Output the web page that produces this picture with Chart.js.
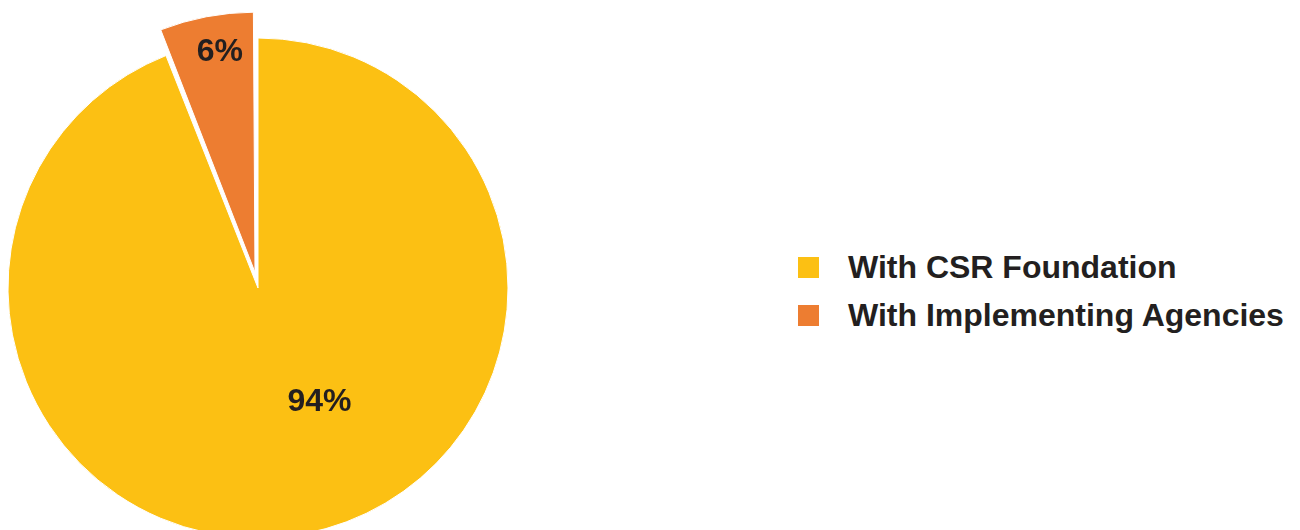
<!DOCTYPE html>
<html>
<head>
<meta charset="utf-8">
<script src="https://cdn.jsdelivr.net/npm/chart.js@4"></script>
<style>
  html, body { margin: 0; padding: 0; background: #fff; overflow: hidden; width: 1300px; height: 530px; }
  #pieWrap { position: absolute; left: 0; top: 0; width: 516px; height: 576px; }
  #legend { position: absolute; left: 798px; top: 243px; font-family: "Liberation Sans", Arial, sans-serif; font-weight: bold; font-size: 32px; color: #231f20; }
  .row { display: flex; align-items: center; height: 48px; line-height: 48px; white-space: nowrap; }
  .box { width: 21px; height: 21px; margin-right: 29px; }
</style>
</head>
<body>
<div id="pieWrap"><canvas id="shareChart" width="516" height="576"></canvas></div>
<div id="legend"></div>
<script>
const categories = ['With CSR Foundation', 'With Implementing Agencies'];
const shares = [94, 6];
const sliceColors = ['#fcc013', '#ed7d31'];

const PIE_RADIUS = 250;
// label placement: fraction of radius along the slice middle, plus a small nudge
const labelRadius = [0.5, 0.86];
const labelShift = [[38, -9], [7, 1]];

// how far chart.js v4 pushes an exploded arc out: offset/4 * (1 + fix)
function arcShift(arc) {
  const off = (arc.options.offset || 0) / 4;
  const circ = arc.endAngle - arc.startAngle;
  const fix = 1 - Math.sin(Math.min(Math.PI, circ || 0));
  return off * (1 + fix);
}

const pieLabels = {
  id: 'pieLabels',
  afterDatasetsDraw(chart) {
    const ctx = chart.ctx;
    const meta = chart.getDatasetMeta(0);
    ctx.save();
    ctx.font = 'bold 32px "Liberation Sans", Arial, sans-serif';
    ctx.fillStyle = '#231f20';
    ctx.textAlign = 'center';
    ctx.textBaseline = 'middle';
    meta.data.forEach((arc, i) => {
      const mid = (arc.startAngle + arc.endAngle) / 2;
      const r = arcShift(arc) + labelRadius[i] * arc.outerRadius;
      const x = arc.x + Math.cos(mid) * r + labelShift[i][0];
      const y = arc.y + Math.sin(mid) * r + labelShift[i][1];
      ctx.fillText(shares[i] + '%', x, y);
    });
    ctx.restore();
  }
};

const ctx = document.getElementById('shareChart').getContext('2d');
new Chart(ctx, {
  type: 'pie',
  data: {
    labels: categories,
    datasets: [{
      data: shares,
      backgroundColor: sliceColors,
      borderColor: '#ffffff',
      borderWidth: 1,
      offset: [0, 64],
      hoverOffset: 0
    }]
  },
  options: {
    responsive: false,
    animation: false,
    radius: PIE_RADIUS,
    layout: { padding: 0 },
    plugins: {
      legend: { display: false },
      tooltip: { enabled: false }
    }
  },
  plugins: [pieLabels]
});

// html legend on the right
const legend = document.getElementById('legend');
categories.forEach((name, i) => {
  const row = document.createElement('div');
  row.className = 'row';
  const box = document.createElement('span');
  box.className = 'box';
  box.style.background = sliceColors[i];
  const txt = document.createElement('span');
  txt.textContent = name;
  row.appendChild(box);
  row.appendChild(txt);
  legend.appendChild(row);
});
</script>
</body>
</html>
